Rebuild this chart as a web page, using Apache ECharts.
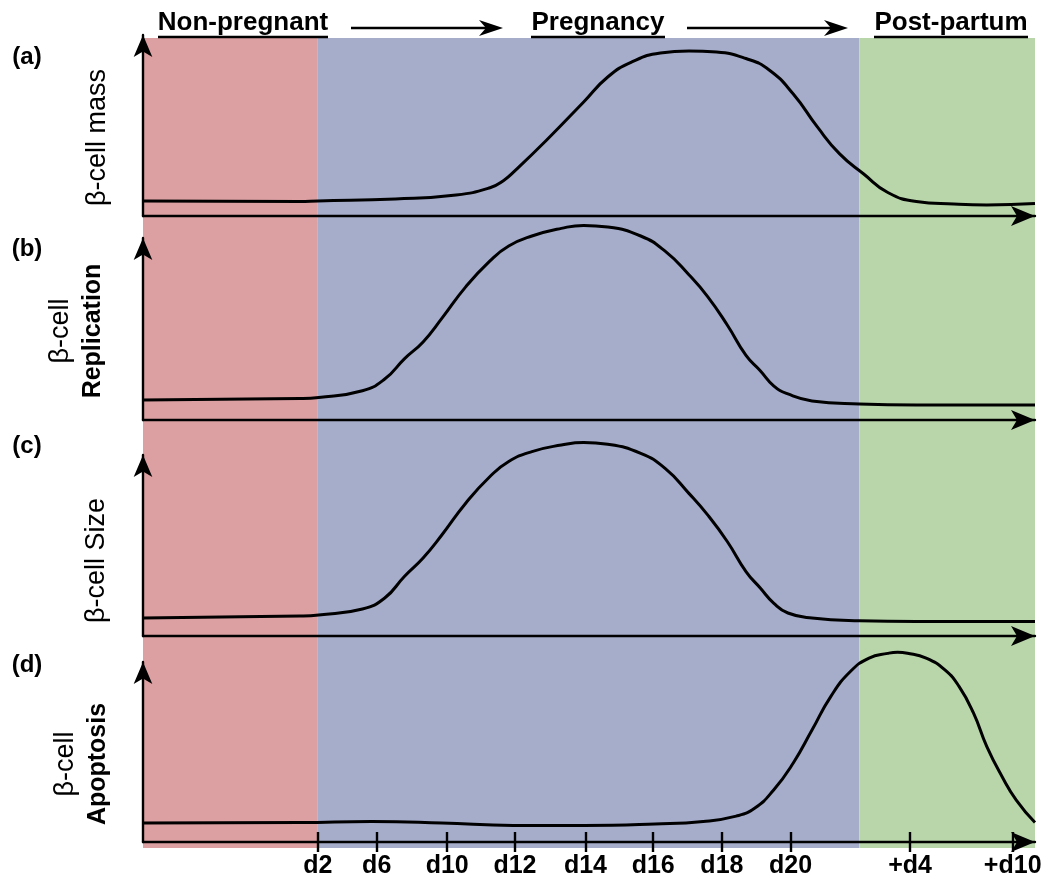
<!DOCTYPE html>
<html><head><meta charset="utf-8">
<script src="https://cdn.jsdelivr.net/npm/echarts@6/dist/echarts.min.js"></script>
<style>html,body{margin:0;padding:0;background:#fff}#c{width:1050px;height:893px}</style>
</head><body><div id="c"></div>
<script>
// ---------- DATA ----------
const phaseNames = ['Non-pregnant', 'Pregnancy', 'Post-partum'];
const phaseStart = [0, 19.6, 80.3];
const phaseEnd = [19.6, 80.3, 100];
const tickPositions = [19.6, 26.2, 34.1, 41.7, 49.6, 57.2, 64.9, 72.6, 86.0, 97.5];
const tickLabels = ['d2', 'd6', 'd10', 'd12', 'd14', 'd16', 'd18', 'd20', '+d4', '+d10'];
const panelLetters = ['(a)', '(b)', '(c)', '(d)'];
const massCurve = [[0,8.3],[17.6,8.0],[19.6,8.3],[28.3,9.4],[35.1,11.6],[38.9,15.6],[40.4,19.5],[41.8,25.5],[45.2,41.7],[49.4,63.0],[52.1,76.8],[54.8,85.1],[58.0,90.1],[61.2,91.2],[64.3,90.6],[67.6,87.0],[70.2,80.7],[72.9,67.4],[75.6,49.2],[78.1,34.3],[80.8,23.2],[83.5,13.0],[86.7,8.0],[90.9,6.6],[94.6,6.1],[100,6.9]];
const replicationCurve = [[0,11.0],[17.6,11.8],[19.7,12.4],[24.6,16.1],[27.1,22.5],[29.3,33.6],[31.4,42.9],[33.5,55.8],[36.2,73.3],[38.9,87.4],[41.0,95.6],[43.6,101.1],[46.9,105.3],[49.4,106.9],[52.1,106.0],[55.8,101.1],[58.5,92.9],[61.2,79.8],[63.3,67.8],[65.5,52.2],[67.6,35.5],[69.2,27.1],[70.7,18.8],[72.3,14.3],[75.0,10.5],[80.3,8.8],[86.7,8.2],[100,8.2]];
const sizeCurve = [[0,9.9],[17.6,11.0],[19.7,11.6],[24.6,14.9],[27.1,21.0],[29.3,32.9],[31.4,43.1],[33.5,55.8],[36.2,73.5],[38.9,88.1],[41.0,96.4],[43.6,101.9],[46.9,105.5],[49.4,106.9],[52.1,105.9],[55.8,100.9],[58.5,92.7],[61.2,78.8],[63.3,66.9],[65.5,52.2],[67.6,35.6],[69.2,26.5],[70.7,18.2],[72.3,12.7],[75.0,9.9],[80.3,8.4],[86.7,8.0],[100,8.0]];
const apoptosisCurve = [[0,10.6],[17.6,10.8],[25.6,11.4],[33.5,10.6],[41.5,9.2],[49.4,9.2],[57.4,10.0],[62.8,11.4],[66.5,14.4],[68.6,18.9],[70.7,28.9],[72.9,43.9],[75.0,62.2],[77.1,80.8],[79.3,94.7],[81.4,102.2],[83.5,104.8],[84.6,105.4],[85.7,104.9],[87.8,102.2],[89.9,95.6],[91.5,86.3],[93.1,71.7],[94.6,53.0],[96.3,36.4],[97.9,23.3],[100,10.8]];
const panelNames = ['{n|β-cell mass}', '{n|β-cell}\n{b|Replication}', '{n|β-cell Size}', '{n|β-cell}\n{b|Apoptosis}'];

// ---------- STYLE / LAYOUT ----------
const FONT = '"Liberation Sans", Arial, Helvetica, sans-serif';
const phaseColors = ['#dca0a2', '#a6adcb', '#b8d6aa'];
const panelTop = [35, 238, 455, 662];
const panelAxisY = [216, 420, 636, 842];
const nameGaps = [29, 33, 30, 28];
const namePads = [[0, 24, 0, 0], [0, 4, 0, 0], [0, 30, 0, 0], [0, 24, 0, 0]];
const letterY = [57, 249, 446, 665];
const H = 893, LEFT = 143, RIGHT = 15;
const curves = [massCurve, replicationCurve, sizeCurve, apoptosisCurve];

const chart = echarts.init(document.getElementById('c'), null, {renderer: 'canvas'});

const grids = [{left: LEFT, right: RIGHT, top: 38, bottom: H - 848}];
const xAxes = [{gridIndex: 0, type: 'value', min: 0, max: 100, show: false}];
const yAxes = [{gridIndex: 0, type: 'value', min: 0, max: 1, show: false}];
const series = [{
  type: 'custom', xAxisIndex: 0, yAxisIndex: 0, z: -10, silent: true,
  data: phaseStart.map((s, i) => [s, phaseEnd[i], i]),
  renderItem: function (params, api) {
    const p0 = api.coord([api.value(0), 1]);
    const p1 = api.coord([api.value(1), 0]);
    return {type: 'rect', shape: {x: p0[0], y: p0[1], width: p1[0] - p0[0], height: p1[1] - p0[1]},
            style: {fill: phaseColors[api.value(2)]}};
  }
}];

const axisLineStyle = {color: '#000', width: 2.4};
for (let i = 0; i < 4; i++) {
  const g = i + 1;
  grids.push({left: LEFT, right: RIGHT, top: panelTop[i], bottom: H - panelAxisY[i]});
  const isLast = i === 3;
  xAxes.push({
    gridIndex: g, type: 'value', min: 0, max: 100, position: 'bottom',
    axisLine: {show: true, onZero: false, symbol: ['none', 'arrow'], symbolSize: [15, 24], lineStyle: axisLineStyle},
    axisTick: isLast ? {show: true, customValues: tickPositions, length: 10, lineStyle: {color: '#000', width: 2.4}} : {show: false},
    axisLabel: isLast ? {show: true, customValues: tickPositions, margin: 12, color: '#000', fontFamily: FONT, fontWeight: 'bold', fontSize: 25,
      formatter: v => { const k = tickPositions.findIndex(t => Math.abs(t - v) < 1e-6); return k >= 0 ? tickLabels[k] : ''; }} : {show: false},
    splitLine: {show: false}
  });
  yAxes.push({
    gridIndex: g, type: 'value', min: 0, max: 100,
    name: panelNames[i], nameLocation: 'middle', nameRotate: 90, nameGap: nameGaps[i],
    nameTextStyle: {padding: namePads[i], rich: {
      n: {fontFamily: FONT, fontSize: 27, fontWeight: 'normal', color: '#000', lineHeight: 33},
      b: {fontFamily: FONT, fontSize: 25, fontWeight: 'bold', color: '#000', lineHeight: 33}
    }},
    axisLine: {show: true, onZero: false, symbol: ['none', 'arrow'], symbolSize: [14, 22], lineStyle: axisLineStyle},
    axisTick: {show: false}, axisLabel: {show: false}, splitLine: {show: false}
  });
  series.push({
    type: 'line', xAxisIndex: g, yAxisIndex: g, data: curves[i], smooth: 0.5, showSymbol: false,
    clip: false, z: 5, silent: true, lineStyle: {color: '#000', width: 3}
  });
}
// inward half of the bottom ticks
xAxes.push({
  gridIndex: 4, type: 'value', min: 0, max: 100, position: 'bottom',
  axisLine: {show: false}, axisLabel: {show: false}, splitLine: {show: false},
  axisTick: {show: true, inside: true, customValues: tickPositions, length: 10, lineStyle: {color: '#000', width: 2.4}}
});

// ---------- decorations ----------
const headerX = [243, 598, 951];
const underline = [[158, 328], [531, 665], [874, 1028]];
const graphic = [];
phaseNames.forEach((t, i) => {
  graphic.push({type: 'text', x: headerX[i], y: 23, z: 10,
    style: {text: t, fill: '#000', font: 'bold 26px ' + FONT, align: 'center', verticalAlign: 'middle', textAlign: 'center', textVerticalAlign: 'middle'}});
  graphic.push({type: 'line', z: 10, shape: {x1: underline[i][0], y1: 37, x2: underline[i][1], y2: 37}, style: {stroke: '#000', lineWidth: 2.5}});
});
[[351, 503], [687, 848]].forEach(a => {
  graphic.push({type: 'line', z: 10, shape: {x1: a[0], y1: 28, x2: a[1] - 10, y2: 28}, style: {stroke: '#000', lineWidth: 2.5}});
  graphic.push({type: 'polygon', z: 10, shape: {points: [[a[1], 28], [a[1] - 24, 20], [a[1] - 17, 28], [a[1] - 24, 36]]}, style: {fill: '#000'}});
});
panelLetters.forEach((t, i) => {
  graphic.push({type: 'text', x: 27, y: letterY[i], z: 10,
    style: {text: t, fill: '#000', font: 'bold 24px ' + FONT, align: 'center', verticalAlign: 'middle', textAlign: 'center', textVerticalAlign: 'middle'}});
});

chart.setOption({
  animation: false, backgroundColor: '#fff',
  grid: grids, xAxis: xAxes, yAxis: yAxes, series: series, graphic: graphic
});
</script></body></html>
